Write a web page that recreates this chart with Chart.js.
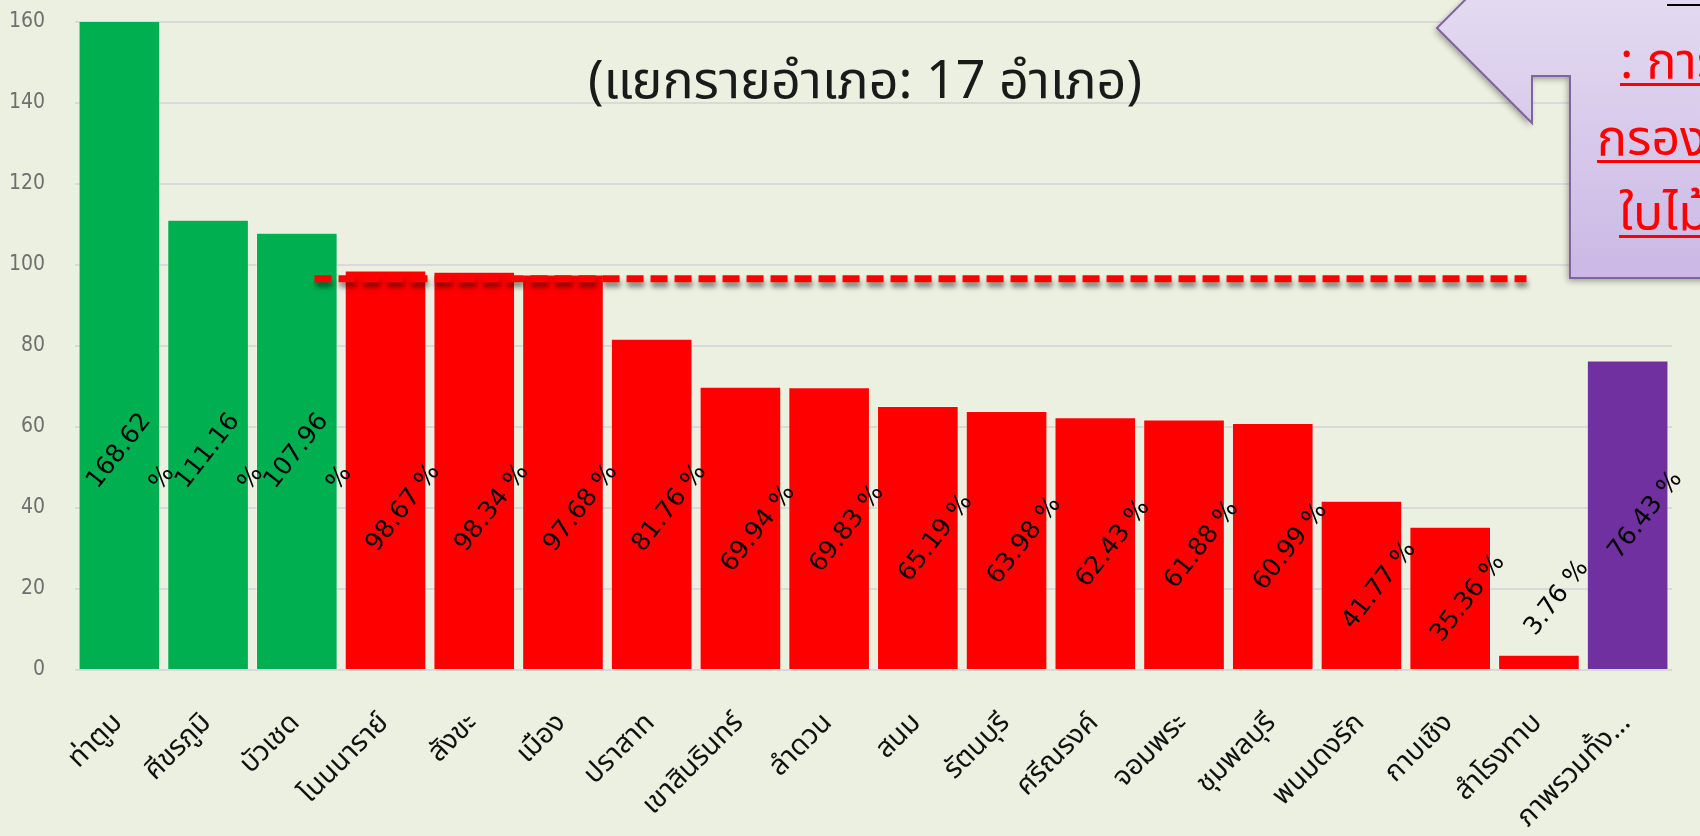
<!DOCTYPE html>
<html>
<head>
<meta charset="utf-8">
<script src="https://cdn.jsdelivr.net/npm/chart.js@4.4.1/dist/chart.umd.min.js"></script>
<style>
  html, body { margin: 0; padding: 0; background: #ECF0E0; overflow: hidden; }
  #wrap { position: relative; width: 1700px; height: 836px; }
</style>
</head>
<body>
<div id="wrap"><canvas id="chart"></canvas></div>
<script>
// ข้อมูลแยกรายอำเภอ
const districts = ['ท่าตูม', 'ศีขรภูมิ', 'บัวเชด', 'โนนนาราย์', 'สังขะ', 'เมือง', 'ปราสาท', 'เขาสินรินทร์', 'ลำดวน',
  'สนม', 'รัตนบุรี', 'ศรีณรงค์', 'จอมพระ', 'ชุมพลบุรี', 'พนมดงรัก', 'กาบเชิง', 'สำโรงทาบ', 'ภาพรวมทั้ง...'];
const percents = [168.62, 111.16, 107.96, 98.67, 98.34, 97.68, 81.76, 69.94, 69.83,
  65.19, 63.98, 62.43, 61.88, 60.99, 41.77, 35.36, 3.76, 76.43];
const groups = ['pass', 'pass', 'pass', 'fail', 'fail', 'fail', 'fail', 'fail', 'fail',
  'fail', 'fail', 'fail', 'fail', 'fail', 'fail', 'fail', 'fail', 'total'];
const yTicks = [0, 20, 40, 60, 80, 100, 120, 140, 160];

// เส้นประ (เป้าหมาย) กับช่วงอำเภอที่เส้นพาดผ่าน
const targetValue = 96.6;
const targetFrom = 2.2;
const targetTo = 15.86;

const subtitle = '(แยกรายอำเภอ: 17 อำเภอ)';
const noteLines = [': การ', 'กรองห', 'ใบไม้'];

const groupColors = { pass: '#00B050', fail: '#FF0000', total: '#7030A0' };
const thaiFont = "'Noto Sans Thai', 'Noto Sans', 'DejaVu Sans', sans-serif";

// เงาให้เส้นประ
const lineShadow = {
  id: 'lineShadow',
  beforeDatasetDraw(chart, args) {
    if (args.index !== 1) return;
    const ctx = chart.ctx;
    ctx.save();
    ctx.shadowColor = 'rgba(0,0,0,0.45)';
    ctx.shadowBlur = 5;
    ctx.shadowOffsetX = 1;
    ctx.shadowOffsetY = 5;
  },
  afterDatasetDraw(chart, args) {
    if (args.index !== 1) return;
    chart.ctx.restore();
  }
};

// ป้ายตัวเลขเอียงบนแท่ง
const barLabels = {
  id: 'barLabels',
  afterDatasetsDraw(chart) {
    const ctx = chart.ctx;
    const meta = chart.getDatasetMeta(0);
    const y = chart.scales.y;
    const ang = -52 * Math.PI / 180;
    ctx.save();
    ctx.font = "25px 'DejaVu Sans', sans-serif";
    ctx.fillStyle = '#000';
    ctx.textAlign = 'center';
    ctx.textBaseline = 'middle';
    meta.data.forEach((bar, i) => {
      const v = percents[i];
      let pos = Math.min(v / 2, 40);
      if (pos < 14) pos = v + 14;
      const num = v.toFixed(2);
      if (num.length >= 6) {
        const py = y.getPixelForValue(pos + 14);
        ctx.save();
        ctx.translate(bar.x, py);
        ctx.rotate(ang);
        ctx.fillText(num, 0, 0);
        ctx.restore();
        ctx.save();
        ctx.translate(bar.x + 43, py + 27);
        ctx.rotate(ang);
        ctx.fillText('%', 0, 0);
        ctx.restore();
      } else {
        const py = y.getPixelForValue(pos);
        ctx.save();
        ctx.translate(bar.x + 18, py);
        ctx.rotate(ang);
        ctx.fillText(num + ' %', 0, 0);
        ctx.restore();
      }
    });
    ctx.restore();
  }
};

// หัวเรื่องกับกล่องข้อความมุมขวา
const decorations = {
  id: 'decorations',
  afterDraw(chart) {
    const ctx = chart.ctx;
    ctx.save();
    ctx.font = '52px ' + thaiFont;
    ctx.fillStyle = '#1a1a1a';
    ctx.textAlign = 'center';
    ctx.textBaseline = 'alphabetic';
    ctx.fillText(subtitle, 865, 98);

    // callout
    ctx.save();
    ctx.beginPath();
    ctx.moveTo(1437, 28);
    ctx.lineTo(1532, 123);
    ctx.lineTo(1532, 76);
    ctx.lineTo(1570, 76);
    ctx.lineTo(1570, 278);
    ctx.lineTo(1710, 278);
    ctx.lineTo(1710, -10);
    ctx.lineTo(1475, -10);
    ctx.closePath();
    const g = ctx.createLinearGradient(0, 0, 0, 278);
    g.addColorStop(0, '#E3DAF1');
    g.addColorStop(1, '#CBB8E5');
    ctx.shadowColor = 'rgba(0,0,0,0.35)';
    ctx.shadowBlur = 6;
    ctx.shadowOffsetX = -2;
    ctx.shadowOffsetY = 3;
    ctx.fillStyle = g;
    ctx.fill();
    ctx.shadowColor = 'transparent';
    ctx.strokeStyle = '#8064A2';
    ctx.lineWidth = 2;
    ctx.stroke();
    ctx.restore();

    ctx.fillStyle = '#000';
    ctx.fillRect(1667, 4, 40, 2);

    ctx.font = '50px ' + thaiFont;
    ctx.fillStyle = '#FF0000';
    ctx.textAlign = 'left';
    const xs = [1620, 1597, 1619];
    const bases = [78, 155, 230];
    noteLines.forEach((t, i) => {
      ctx.fillText(t, xs[i], bases[i]);
      ctx.fillRect(xs[i], bases[i] + 5, 120, 3);
    });
    ctx.restore();
  }
};

const ctx = document.getElementById('chart').getContext('2d');
new Chart(ctx, {
  type: 'bar',
  data: {
    labels: districts,
    datasets: [{
      type: 'bar',
      xAxisID: 'x',
      data: percents,
      backgroundColor: groups.map(g => groupColors[g]),
      borderColor: 'rgba(255,255,255,0.35)',
      borderWidth: 1,
      grouped: false,
      barPercentage: 0.92,
      categoryPercentage: 1,
      order: 2
    }, {
      type: 'line',
      xAxisID: 'xl',
      data: [{ x: targetFrom, y: targetValue }, { x: targetTo, y: targetValue }],
      borderColor: '#FF0000',
      borderWidth: 7,
      borderDash: [17, 7],
      pointRadius: 0,
      fill: false,
      order: 1
    }]
  },
  options: {
    responsive: true,
    maintainAspectRatio: false,
    animation: false,
    layout: { autoPadding: false, padding: { top: 22, right: 28, left: 0, bottom: 0 } },
    plugins: {
      legend: { display: false },
      tooltip: { enabled: false }
    },
    scales: {
      x: {
        type: 'category',
        offset: true,
        grid: { display: false },
        border: { display: false },
        afterFit(scale) { scale.height = 166; },
        ticks: {
          autoSkip: false,
          minRotation: 45,
          maxRotation: 45,
          padding: 30,
          color: '#111',
          font: { family: thaiFont, size: 28 }
        }
      },
      xl: {
        type: 'linear',
        display: false,
        offset: false,
        min: -0.5,
        max: 17.5
      },
      y: {
        min: 0,
        max: 160,
        afterFit(scale) {
          scale.width = 75;
          scale.paddingTop = 0;
          scale.paddingBottom = 0;
        },
        afterBuildTicks(scale) { scale.ticks = yTicks.map(v => ({ value: v })); },
        grid: { color: '#D9D9D9', lineWidth: 2, drawTicks: false },
        border: { display: false },
        ticks: {
          padding: 30,
          color: '#6F6F6F',
          font: { family: "'Liberation Sans Narrow', 'DejaVu Sans Condensed', 'Liberation Sans', sans-serif", size: 21 }
        }
      }
    }
  },
  plugins: [lineShadow, barLabels, decorations]
});
</script>
</body>
</html>
